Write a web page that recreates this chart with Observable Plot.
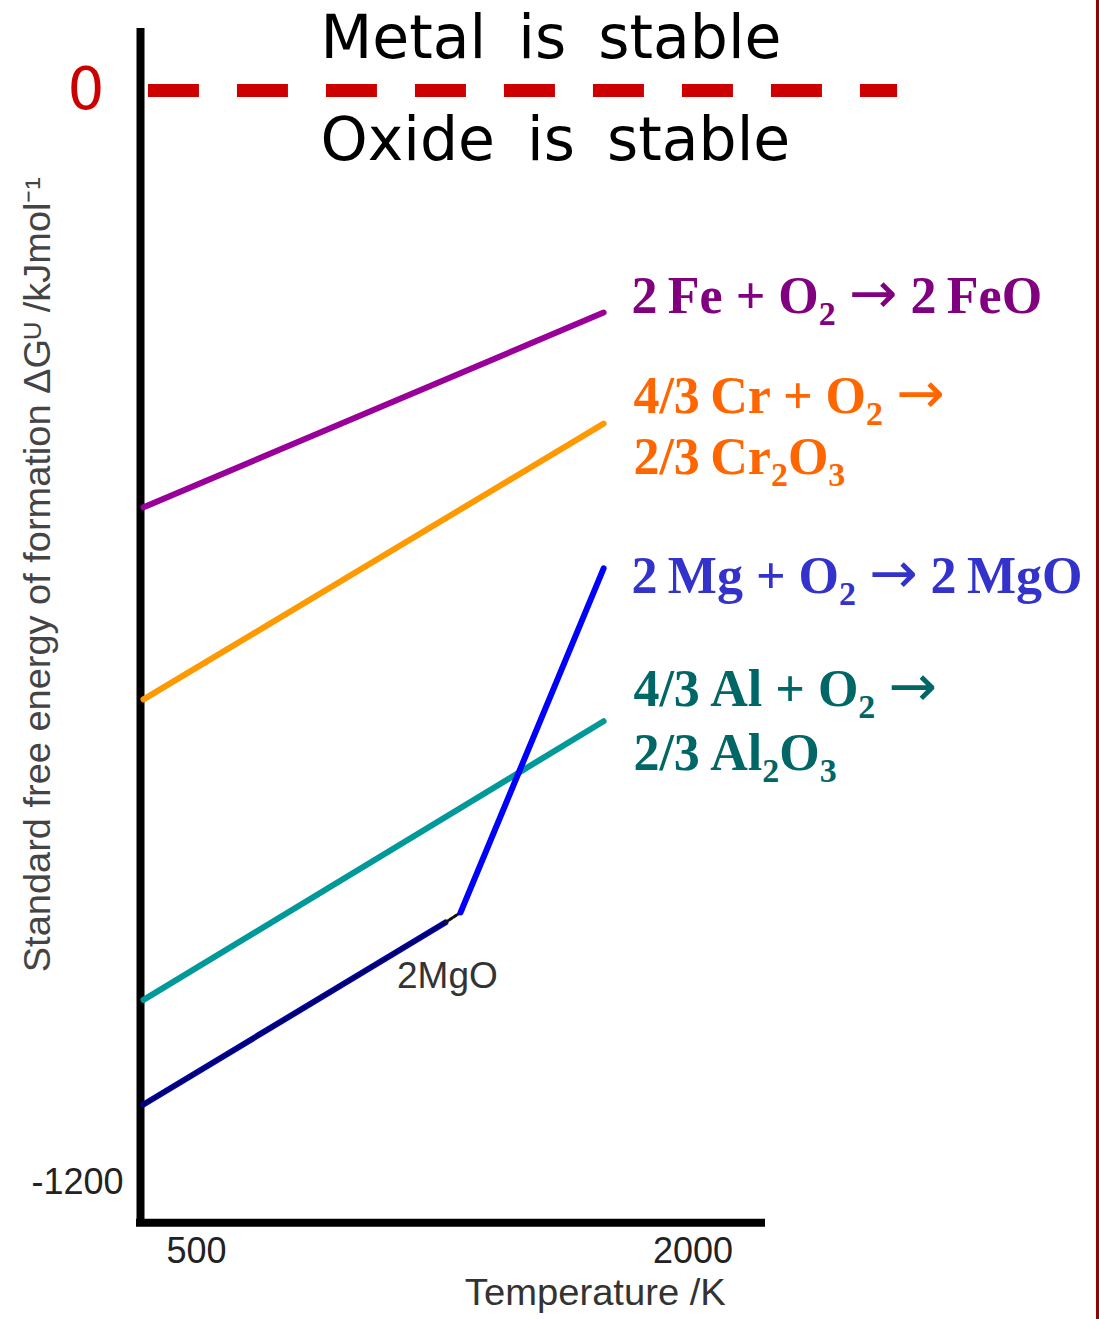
<!DOCTYPE html>
<html>
<head>
<meta charset="utf-8">
<script src="https://cdn.jsdelivr.net/npm/d3@7"></script>
<script src="https://cdn.jsdelivr.net/npm/@observablehq/plot@0.6"></script>
<style>
  html, body { margin: 0; padding: 0; background: #fff; }
  #wrap { width: 1096px; height: 1319px; border-right: 3px solid #990000; background: #fff; }
  .stab text { word-spacing: 13px; }
</style>
</head>
<body>
<div id="wrap"></div>
<script>
// ---- data (temperature in K, standard free energy in kJ/mol) ----
const xTicks = [500, 2000];
const yTicks = [-1200];
const zeroTick = [0];

const feT = [340, 1730],  feG = [-458, -244];
const crT = [340, 1730],  crG = [-669, -366];
const alT = [340, 1730],  alG = [-999, -693];
const mgLowT = [340, 1252],  mgLowG = [-1114, -914];
const mgLinkT = [1252, 1298], mgLinkG = [-914, -903];
const mgHighT = [1298, 1730], mgHighG = [-903, -525];

const zeroLineT = [355, 2618];

const stableLabels = ["Metal is stable", "Oxide is stable"];
const stableT = [875, 875];
const stableG = [36, -77];

const eqLabels = ["2\u2009Fe + O₂ → 2\u2009FeO", "4/3\u2009Cr + O₂ →", "2/3\u2009Cr₂O₃", "2\u2009Mg + O₂ → 2\u2009MgO", "4/3\u2009Al + O₂ →", "2/3\u2009Al₂O₃"];
const eqT = [1814, 1820, 1820, 1814, 1820, 1820];
const eqG = [-245, -354, -421, -552, -676, -747];
const eqColors = ["#800080", "#FF6600", "#FF6600", "#3333CC", "#006666", "#006666"];

const mgoLabel = ["2MgO"], mgoT = [1258], mgoG = [-973];

const xLabel = "Temperature /K", xLabelT = 1705;
const yLabel = "Standard free energy of formation ΔGᵁ /kJmol⁻¹", yLabelG = -532;

const xDomain = [331, 2219];
const yDomain = [-1248, 68];

// ---- build tables ----
const seg = (T, G) => T.map((t, i) => ({T: t, G: G[i]}));
const eqData = eqLabels.map((s, i) => ({s, T: eqT[i], G: eqG[i], c: eqColors[i]}));
const stabData = stableLabels.map((s, i) => ({s, T: stableT[i], G: stableG[i]}));

const chart = Plot.plot({
  width: 1096,
  height: 1319,
  marginLeft: 140,
  marginRight: 331,
  marginTop: 28,
  marginBottom: 93,
  x: {domain: xDomain},
  y: {domain: yDomain},
  style: {fontFamily: "Liberation Sans, Arial, sans-serif", background: "white", overflow: "visible"},
  marks: [
    // axis lines
    Plot.ruleX([xDomain[0]], {y1: yDomain[0], y2: yDomain[1], stroke: "black", strokeWidth: 8}),
    Plot.ruleY([-1244], {x1: xDomain[0] - 12, x2: xDomain[1], stroke: "black", strokeWidth: 8}),
    // tick labels
    Plot.axisX(xTicks, {anchor: "bottom", label: null, tickSize: 0, tickPadding: 11, fontSize: 36, color: "#222", tickFormat: d => `${d}`}),
    Plot.axisY(yTicks, {anchor: "left", label: null, tickSize: 0, tickPadding: 17, fontSize: 36, color: "#222", tickFormat: d => `${d}`}),
    Plot.axisY(zeroTick, {anchor: "left", label: null, tickSize: 0, tickPadding: 36, fontSize: 58, fontFamily: "DejaVu Sans", color: "#CC0000", tickFormat: d => `${d}`}),
    // axis titles
    Plot.text([xLabel], {x: [xLabelT], frameAnchor: "bottom", dy: 78, fontSize: 36, fill: "#333", text: d => d, className: "xlab"}),
    Plot.text([yLabel], {y: [yLabelG], frameAnchor: "left", dx: -102, rotate: -90, textAnchor: "middle", fontSize: 36, fill: "#444", text: d => d, className: "ylab"}),
    // zero line
    Plot.ruleY([0], {x1: zeroLineT[0], x2: zeroLineT[1], stroke: "#CC0000", strokeWidth: 13, strokeDasharray: "51,38"}),
    Plot.text(stabData, {x: "T", y: "G", text: "s", textAnchor: "start", lineAnchor: "bottom", fontSize: 60, fontFamily: "DejaVu Sans", fill: "black", className: "stab"}),
    // reaction lines
    Plot.line(seg(feT, feG), {x: "T", y: "G", stroke: "#990099", strokeWidth: 6}),
    Plot.line(seg(crT, crG), {x: "T", y: "G", stroke: "#FF9900", strokeWidth: 6}),
    Plot.line(seg(alT, alG), {x: "T", y: "G", stroke: "#009999", strokeWidth: 6}),
    Plot.line(seg(mgLowT, mgLowG), {x: "T", y: "G", stroke: "#0000AA", strokeWidth: 6}),
    Plot.line(seg(mgLowT, mgLowG), {x: "T", y: "G", stroke: "#000033", strokeWidth: 2, strokeDasharray: "3,3"}),
    Plot.line(seg(mgLinkT, mgLinkG), {x: "T", y: "G", stroke: "#111", strokeWidth: 3, strokeDasharray: "3,2"}),
    Plot.line(seg(mgHighT, mgHighG), {x: "T", y: "G", stroke: "#0000FF", strokeWidth: 6}),
    Plot.text(mgoLabel, {x: mgoT, y: mgoG, text: d => d, fontSize: 37, fill: "#333"}),
    // equation labels
    Plot.text(eqData, {x: "T", y: "G", text: "s", fill: "c", textAnchor: "start", lineAnchor: "bottom", fontSize: 52, fontWeight: "bold", fontFamily: "Liberation Serif, Times New Roman, serif", className: "eq"})
  ]
});

document.getElementById("wrap").appendChild(chart);

// stretch axis titles to the reference's length
chart.querySelectorAll(".ylab text").forEach(t => { t.setAttribute("textLength", "795"); t.setAttribute("lengthAdjust", "spacingAndGlyphs"); });
chart.querySelectorAll(".xlab text").forEach(t => { t.setAttribute("textLength", "261"); t.setAttribute("lengthAdjust", "spacingAndGlyphs"); });

// render subscripts as lowered, smaller tspans, and the arrow larger
const subMap = {"₂": "2", "₃": "3"};
const SVGNS = "http://www.w3.org/2000/svg";
chart.querySelectorAll(".eq text").forEach(t => {
  const s = t.textContent;
  const runs = [];
  for (const ch of s) {
    const kind = ch in subMap ? "sub" : ch === "→" ? "arrow" : "norm";
    const c = kind === "sub" ? subMap[ch] : ch;
    if (runs.length && runs[runs.length - 1].kind === kind) runs[runs.length - 1].s += c;
    else runs.push({kind, s: c});
  }
  t.textContent = "";
  let lowered = false;
  runs.forEach(r => {
    const ts = document.createElementNS(SVGNS, "tspan");
    ts.textContent = r.s;
    if (r.kind === "sub") { ts.setAttribute("font-size", "34"); ts.setAttribute("dy", "12"); lowered = true; }
    else {
      if (lowered) { ts.setAttribute("dy", "-12"); lowered = false; }
      if (r.kind === "arrow") { ts.setAttribute("font-family", "DejaVu Sans"); ts.setAttribute("font-weight", "normal"); ts.setAttribute("font-size", "58"); }
    }
    t.appendChild(ts);
  });
});
</script>
</body>
</html>
